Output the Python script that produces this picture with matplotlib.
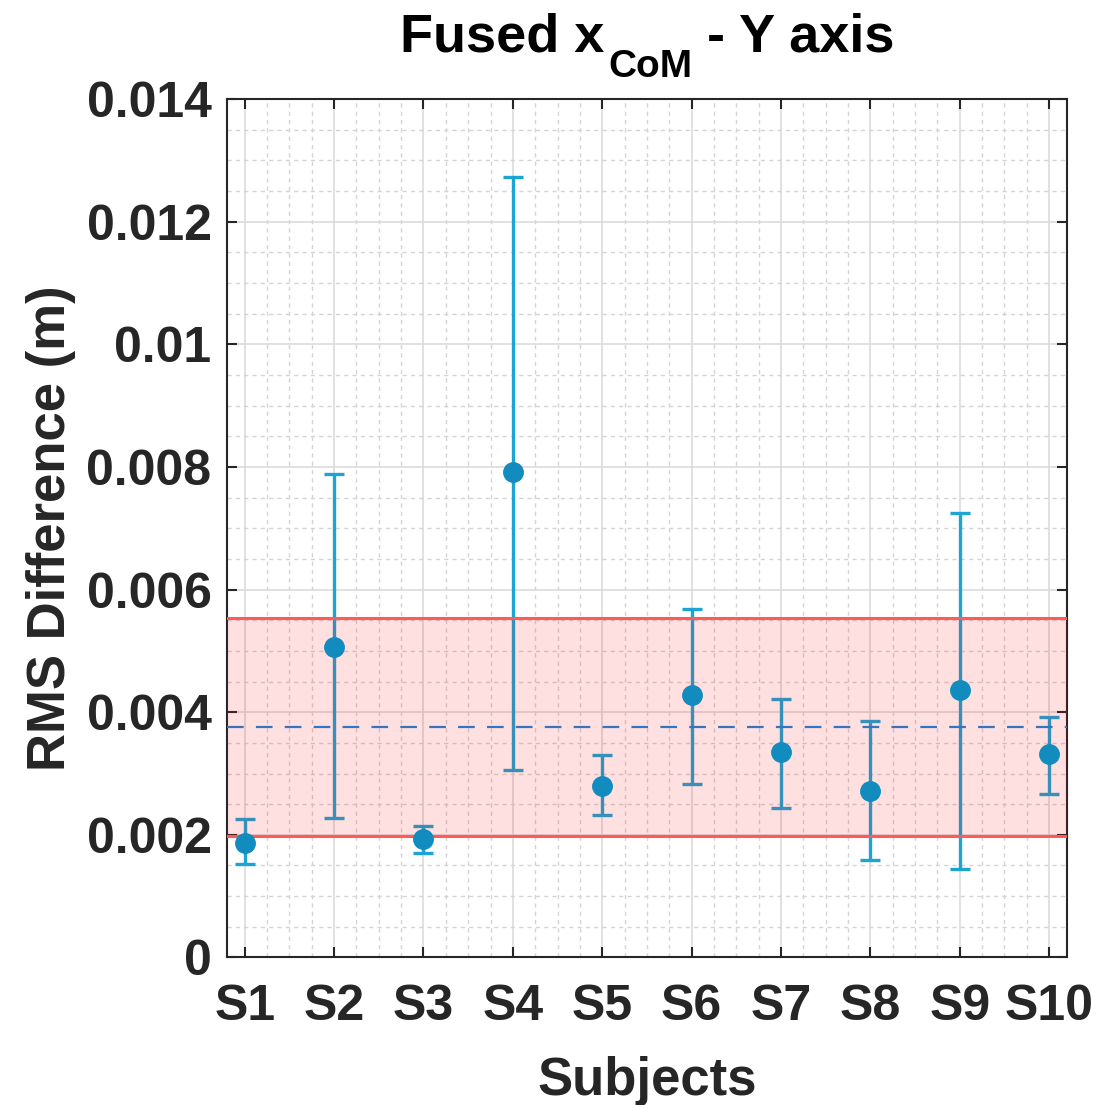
import matplotlib
matplotlib.use("Agg")
import matplotlib.pyplot as plt
from matplotlib.ticker import MultipleLocator, FixedLocator
import numpy as np

subjects = ["S1", "S2", "S3", "S4", "S5", "S6", "S7", "S8", "S9", "S10"]
rms_mean = [0.00187, 0.00507, 0.00193, 0.00791, 0.00280, 0.00428, 0.00335, 0.00271, 0.00436, 0.00331]
rms_high = [0.00225, 0.00788, 0.00214, 0.01272, 0.00330, 0.00568, 0.00422, 0.00385, 0.00725, 0.00392]
rms_low = [0.00152, 0.00228, 0.00171, 0.00306, 0.00233, 0.00283, 0.00244, 0.00159, 0.00144, 0.00266]
group_mean = 0.00376
band_low = 0.00198
band_high = 0.00554
y_ticks = [0, 0.002, 0.004, 0.006, 0.008, 0.01, 0.012, 0.014]
y_tick_labels = ['0', '0.002', '0.004', '0.006', '0.008', '0.01', '0.012', '0.014']

plt.rcParams['font.family'] = ['Liberation Sans', 'DejaVu Sans']

W, H = 1112, 1105
fig = plt.figure(figsize=(W / 100, H / 100), dpi=100)
ax = fig.add_axes([0.204, 0.1335, 0.7555, 0.777])

x = np.arange(1, len(subjects) + 1)
m = np.array(rms_mean)
yerr = np.vstack([m - np.array(rms_low), np.array(rms_high) - m])

line_col = '#1CA5D3'
mark_col = '#128CBE'

ax.errorbar(x, m, yerr=yerr, fmt='none', ecolor=line_col, elinewidth=2.4,
            capsize=7, capthick=2.4, zorder=2)
ax.axhspan(band_low, band_high, color='#FF0000', alpha=0.12, lw=0, zorder=3)
ax.axhline(band_low, color='#FF5A5A', lw=2.2, zorder=3)
ax.axhline(band_high, color='#FF5A5A', lw=2.2, zorder=3)
ax.axhline(group_mean, color='#3574BE', lw=1.6, dashes=(7.5, 5.5), zorder=3)
ax.plot(x, m, 'o', color=mark_col, ms=14, zorder=4, mec=mark_col)

ax.set_xlim(0.8, 10.2)
ax.set_ylim(0, 0.014)
ax.xaxis.set_major_locator(FixedLocator(x))
ax.set_xticklabels(subjects)
ax.xaxis.set_minor_locator(MultipleLocator(0.25))
ax.yaxis.set_major_locator(FixedLocator(y_ticks))
ax.set_yticklabels(y_tick_labels)
ax.yaxis.set_minor_locator(MultipleLocator(0.0005))

ax.grid(True, which='major', color='#d9d9d9', lw=1.1, zorder=0)
ax.grid(True, which='minor', color='#d4d4d4', lw=1.0, linestyle=(0, (3, 3)), zorder=0)
ax.set_axisbelow(True)

tc = '#262626'
ax.tick_params(which='major', direction='in', length=7, width=1.5, color=tc,
               top=True, right=True, labelsize=36, labelcolor=tc)
ax.tick_params(axis='x', which='major', pad=19)
ax.tick_params(axis='y', which='major', pad=11)
ax.tick_params(which='minor', length=0, top=True, right=True)
for lab in ax.get_xticklabels() + ax.get_yticklabels():
    lab.set_fontweight('bold')
for s in ax.spines.values():
    s.set_color(tc)
    s.set_linewidth(1.5)

ax.set_xlabel('Subjects', fontsize=38, fontweight='bold', color=tc)
ax.set_ylabel('RMS Difference (m)', fontsize=38, fontweight='bold', color=tc)
ax.xaxis.set_label_coords(0.5, -0.1145)
ax.yaxis.set_label_coords(-0.179, 0.5)

# Title built from pieces (main text + large, low subscript)
main_fs, sub_fs = 39, 28
base_main = (H - 51) / H
base_sub = (H - 77) / H
t1 = fig.text(0, base_main, 'Fused x', fontsize=main_fs, fontweight='bold', va='baseline', ha='left')
t2 = fig.text(0, base_sub, 'CoM', fontsize=sub_fs, fontweight='bold', va='baseline', ha='left')
t3 = fig.text(0, base_main, ' - Y axis', fontsize=main_fs, fontweight='bold', va='baseline', ha='left')
fig.canvas.draw()
r = fig.canvas.get_renderer()
w1 = t1.get_window_extent(r).width
w2 = t2.get_window_extent(r).width
w3 = t3.get_window_extent(r).width
gap = 4
total = w1 + gap + w2 + w3
cx = 647
x0 = cx - total / 2
t1.set_x(x0 / W)
t2.set_x((x0 + w1 + gap) / W)
t3.set_x((x0 + w1 + gap + w2) / W)

fig.savefig('out.png', dpi=100)
